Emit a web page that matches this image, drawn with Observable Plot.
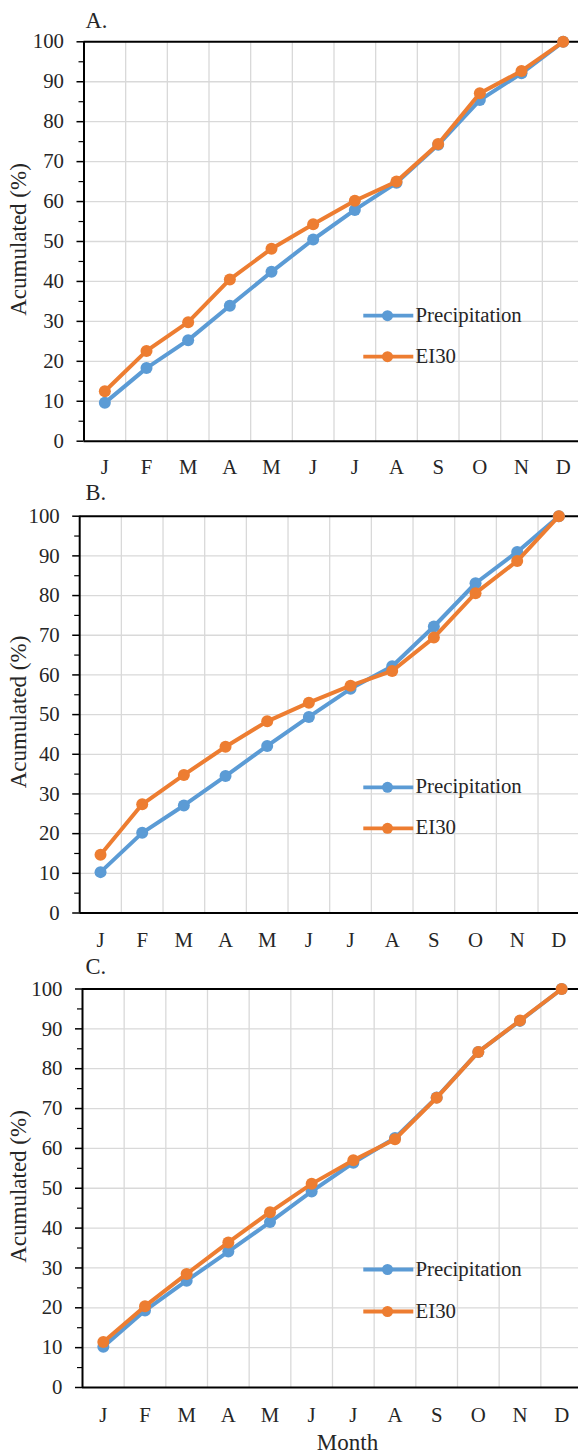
<!DOCTYPE html>
<html>
<head>
<meta charset="utf-8">
<script src="https://cdn.jsdelivr.net/npm/d3@7"></script>
<script src="https://cdn.jsdelivr.net/npm/@observablehq/plot@0.6"></script>
<style>
  html, body { margin: 0; padding: 0; background: #fff; }
  #wrap { position: relative; width: 578px; height: 1454px; overflow: hidden; background: #fff; }
  #wrap > .panel { position: absolute; left: 0; }
  #overlay { position: absolute; left: 0; top: 0; pointer-events: none; }
  #wrap svg, #wrap svg text { font-family: "Liberation Serif", "Times New Roman", serif !important; }
</style>
</head>
<body>
<div id="wrap"></div>
<script>
// ---------- data ----------
const months = ["J","F","M","A","M","J","J","A","S","O","N","D"];
const yTicks = [0,10,20,30,40,50,60,70,80,90,100];
const yMinorTicks = [5,15,25,35,45,55,65,75,85,95];
const seriesNames = ["Precipitation","EI30"];
const panelLabels = ["A.","B.","C."];

const precipA = [9.6,18.3,25.3,33.9,42.4,50.5,57.9,64.7,74.2,85.4,92.1,100];
const ei30A   = [12.5,22.6,29.8,40.5,48.2,54.3,60.2,65.0,74.4,87.1,92.7,100];
const precipB = [10.3,20.2,27.1,34.5,42.1,49.4,56.5,62.2,72.2,83.1,91.0,100];
const ei30B   = [14.7,27.4,34.8,41.9,48.3,53.0,57.3,61.0,69.4,80.6,88.7,100];
const precipC = [10.2,19.3,26.8,34.1,41.5,49.2,56.4,62.6,72.8,84.2,92.0,100];
const ei30C   = [11.4,20.4,28.5,36.4,44.0,51.1,57.0,62.3,72.7,84.2,92.1,100];

// ---------- styling / layout ----------
const BLUE = "#5B9BD5", ORANGE = "#ED7D31";
const GRID = "#d9d9d9", TEXT = "#262626";
const FONT = "Liberation Serif, Times New Roman, serif";
const W = 578, BAND_W = 500;
const TICK_FS = 20.8;

const layouts = [
  {top: 0,   height: 480, mt: 41.3, mb: 480 - 440.7, left: 83.5, tp: 18.2, labelBase: 28.3, titleY: 239.5, legY: [315.7, 356.7]},
  {top: 480, height: 480, mt: 35.7, mb: 480 - 432.5, left: 79.2, tp: 19.4, labelBase: 500,  titleY: 712,   legY: [787.3, 828.3]},
  {top: 960, height: 494, mt: 28.5, mb: 494 - 427,   left: 82,   tp: 20.2, labelBase: 974,  titleY: 1186.5, legY: [1269.5, 1311.5]}
];
const data = [[precipA, ei30A],[precipB, ei30B],[precipC, ei30C]];

const wrap = document.getElementById("wrap");
const gridX = months.slice(1).map((_, i) => i + 0.5);

function makePanel(p, e, L) {
  const rowsP = p.map((v, i) => ({i, v}));
  const rowsE = e.map((v, i) => ({i, v}));
  return Plot.plot({
    width: W,
    height: L.height,
    marginTop: L.mt,
    marginBottom: L.mb,
    marginLeft: L.left,
    marginRight: W - L.left - BAND_W,
    x: {domain: [-0.5, 11.5], range: [L.left, L.left + BAND_W]},
    y: {domain: [0, 100], range: [L.height - L.mb, L.mt]},
    style: {fontFamily: FONT, fontSize: TICK_FS + "px", color: TEXT, background: "transparent", overflow: "hidden"},
    marks: [
      Plot.ruleY(yTicks.filter(v => v > 0 && v < 100), {stroke: GRID, strokeWidth: 1.3}),
      Plot.ruleX(gridX, {stroke: GRID, strokeWidth: 1.3}),
      Plot.ruleY([0, 100], {stroke: "black", strokeWidth: 2}),
      Plot.ruleX([-0.5], {stroke: "black", strokeWidth: 2}),
      Plot.axisY(yTicks, {tickSize: 7, tickPadding: 13, stroke: "black", strokeWidth: 1.5, label: null, fontFamily: FONT}),
      Plot.axisY(yMinorTicks, {tickSize: 5, tickFormat: () => "", stroke: "black", strokeWidth: 1.2, label: null}),
      Plot.axisX(months.map((_, i) => i), {tickSize: 0, tickPadding: L.tp, tickFormat: i => months[i], label: null, fontFamily: FONT}),
      Plot.line(rowsP, {x: "i", y: "v", stroke: BLUE, strokeWidth: 4}),
      Plot.dot(rowsP, {x: "i", y: "v", r: 6, fill: BLUE}),
      Plot.line(rowsE, {x: "i", y: "v", stroke: ORANGE, strokeWidth: 4}),
      Plot.dot(rowsE, {x: "i", y: "v", r: 6, fill: ORANGE})
    ]
  });
}

layouts.forEach((L, k) => {
  const svg = makePanel(data[k][0], data[k][1], L);
  svg.classList.add("panel");
  svg.style.top = L.top + "px";
  wrap.appendChild(svg);
});

// ---------- overlay: panel labels, axis titles, legends ----------
const NS = "http://www.w3.org/2000/svg";
const ov = document.createElementNS(NS, "svg");
ov.setAttribute("id", "overlay");
ov.setAttribute("width", W);
ov.setAttribute("height", 1454);
ov.setAttribute("font-family", FONT);
ov.setAttribute("fill", TEXT);
wrap.appendChild(ov);

function el(name, attrs, text) {
  const n = document.createElementNS(NS, name);
  for (const k in attrs) n.setAttribute(k, attrs[k]);
  if (text != null) n.textContent = text;
  ov.appendChild(n);
  return n;
}

const colors = [BLUE, ORANGE];
layouts.forEach((L, k) => {
  el("text", {x: 85.5, y: L.labelBase, "font-size": 22.5}, panelLabels[k]);
  el("text", {transform: `translate(26,${L.titleY}) rotate(-90)`, "text-anchor": "middle", "font-size": 23}, "Acumulated (%)");
  seriesNames.forEach((name, j) => {
    const y = L.legY[j];
    el("line", {x1: 363.3, x2: 413.3, y1: y, y2: y, stroke: colors[j], "stroke-width": 3.8});
    el("circle", {cx: 387.5, cy: y, r: 5.5, fill: colors[j]});
    el("text", {x: 415.5, y: y + 6, "font-size": TICK_FS}, name);
  });
});
el("text", {x: 347.5, y: 1449.5, "text-anchor": "middle", "font-size": 23}, "Month");
</script>
</body>
</html>
